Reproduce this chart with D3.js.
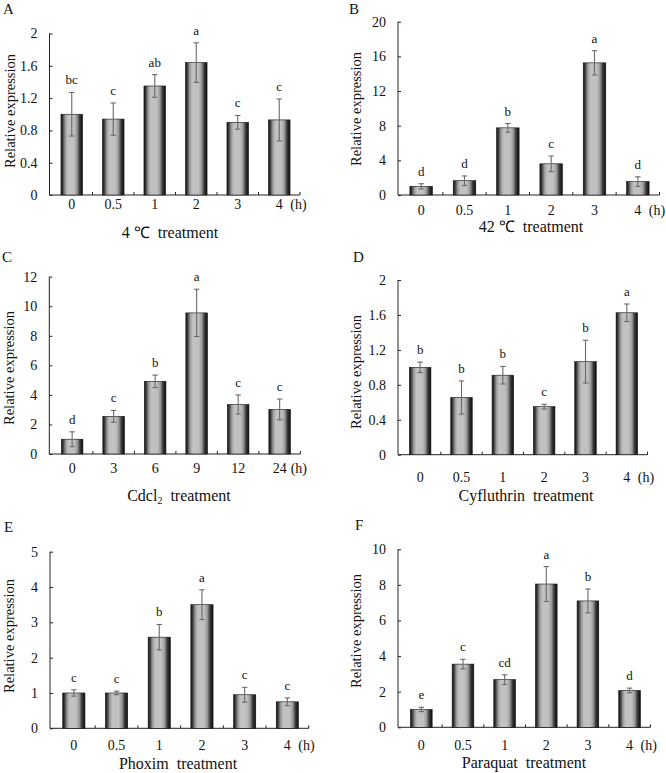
<!DOCTYPE html>
<html>
<head>
<meta charset="utf-8">
<script src="https://cdn.jsdelivr.net/npm/d3@7"></script>
<style>
html,body{margin:0;padding:0;background:#fff;}
svg{display:block;}
text{font-family:"Liberation Serif","Times New Roman",serif;fill:#111;white-space:pre;}
</style>
</head>
<body>
<svg id="chart" width="666" height="773"></svg>
<script>
// ---------------- DATA ----------------
const panelIds = ["A","B","C","D","E","F"];

const catsA = ["0","0.5","1","2","3","4"];
const valsA = [1.00, 0.94, 1.35, 1.64, 0.90, 0.93];
const errA  = [0.27, 0.20, 0.14, 0.245, 0.085, 0.26];
const letA  = ["bc","c","ab","a","c","c"];
const ticksA = [0, 0.4, 0.8, 1.2, 1.6, 2];
const tickLabA = ["0","0.4","0.8","1.2","1.6","2"];

const catsB = ["0","0.5","1","2","3","4"];
const valsB = [1.00, 1.65, 7.75, 3.60, 15.25, 1.55];
const errB  = [0.30, 0.55, 0.50, 0.90, 1.40, 0.55];
const letB  = ["d","d","b","c","a","d"];
const ticksB = [0, 4, 8, 12, 16, 20];
const tickLabB = ["0","4","8","12","16","20"];

const catsC = ["0","3","6","9","12","24"];
const valsC = [1.00, 2.55, 4.92, 9.55, 3.35, 3.02];
const errC  = [0.50, 0.40, 0.42, 1.60, 0.65, 0.70];
const letC  = ["d","c","b","a","c","c"];
const ticksC = [0, 2, 4, 6, 8, 10, 12];
const tickLabC = ["0","2","4","6","8","10","12"];

const catsD = ["0","0.5","1","2","3","4"];
const valsD = [1.00, 0.655, 0.91, 0.55, 1.065, 1.625];
const errD  = [0.06, 0.19, 0.10, 0.027, 0.245, 0.10];
const letD  = ["b","b","b","c","b","a"];
const ticksD = [0, 0.4, 0.8, 1.2, 1.6, 2];
const tickLabD = ["0","0.4","0.8","1.2","1.6","2"];

const catsE = ["0","0.5","1","2","3","4"];
const valsE = [1.00, 1.00, 2.58, 3.50, 0.95, 0.75];
const errE  = [0.09, 0.05, 0.36, 0.42, 0.21, 0.11];
const letE  = ["c","c","b","a","c","c"];
const ticksE = [0, 1, 2, 3, 4, 5];
const tickLabE = ["0","1","2","3","4","5"];

const catsF = ["0","0.5","1","2","3","4"];
const valsF = [1.00, 3.55, 2.68, 8.05, 7.10, 2.07];
const errF  = [0.12, 0.27, 0.27, 0.98, 0.67, 0.13];
const letF  = ["e","c","cd","a","b","d"];
const ticksF = [0, 2, 4, 6, 8, 10];
const tickLabF = ["0","2","4","6","8","10"];

const titles = ["4 \u2103  treatment", "42 \u2103  treatment", "Cdcl|2|  treatment",
                "Cyfluthrin  treatment", "Phoxim  treatment", "Paraquat  treatment"];
const unitLabel = "(h)";
const yTitle = "Relative expression";

// ---------------- LAYOUT ----------------
const layout = [
  {axisX:49.5, bx0:51,    bx1:300,   y0:195,   yTop:33.5,  xlab:14, title:[170,238], id:[3,14],    ylab:[10,111]},
  {axisX:398,  bx0:399.5, bx1:659.5, y0:195,   yTop:21.7,  xlab:20, title:[531,232], id:[349,14],  ylab:[356,109]},
  {axisX:49.3, bx0:51.4,  bx1:300.4, y0:454,   yTop:276.7, xlab:19, title:[179,501], id:[2,262],   ylab:[9,368]},
  {axisX:398,  bx0:399.5, bx1:647.5, y0:454.7, yTop:280,   xlab:27, title:[526,501], id:[353,262], ylab:[356,372]},
  {axisX:50,   bx0:52.5,  bx1:308.7, y0:728.3, yTop:551.7, xlab:22, title:[178,769], id:[4,532],   ylab:[9,636]},
  {axisX:398,  bx0:400.5, bx1:650.4, y0:727.3, yTop:549.3, xlab:23, title:[524,768], id:[355,530], ylab:[356,631]}
];

const panels = [
  {cats:catsA, vals:valsA, err:errA, let:letA, ticks:ticksA, tl:tickLabA},
  {cats:catsB, vals:valsB, err:errB, let:letB, ticks:ticksB, tl:tickLabB},
  {cats:catsC, vals:valsC, err:errC, let:letC, ticks:ticksC, tl:tickLabC},
  {cats:catsD, vals:valsD, err:errD, let:letD, ticks:ticksD, tl:tickLabD},
  {cats:catsE, vals:valsE, err:errE, let:letE, ticks:ticksE, tl:tickLabE},
  {cats:catsF, vals:valsF, err:errF, let:letF, ticks:ticksF, tl:tickLabF}
];

const svg = d3.select("#chart");

// cylinder-like gradient
const defs = svg.append("defs");
const grad = defs.append("linearGradient").attr("id","barGrad")
  .attr("x1","0%").attr("x2","100%").attr("y1","0%").attr("y2","0%");
[["0%","#101010"],["8%","#3a3a3a"],["20%","#9a9a9a"],["32%","#c2c2c2"],
 ["60%","#c0c0c0"],["74%","#9a9a9a"],["86%","#3c3c3c"],["100%","#0c0c0c"]]
  .forEach(([o,c]) => grad.append("stop").attr("offset",o).attr("stop-color",c));

panels.forEach((p, i) => {
  const L = layout[i];
  const g = svg.append("g");
  const ymax = p.ticks[p.ticks.length-1];
  const x = d3.scaleBand().domain(p.cats).range([L.bx0, L.bx1]).paddingInner(0.48).paddingOuter(0.24);
  const y = d3.scaleLinear().domain([0, ymax]).range([L.y0, L.yTop]);

  // y axis (ticks inward)
  const yAxis = d3.axisLeft(y).tickValues(p.ticks).tickSize(-3).tickPadding(12)
    .tickFormat((d,k) => p.tl[k]);
  const ya = g.append("g").attr("transform", `translate(${L.axisX},0)`).call(yAxis);
  ya.select(".domain").attr("d", `M0,${L.y0}V${L.yTop}`).attr("stroke","#222");
  ya.selectAll(".tick line").attr("stroke","#222");
  ya.selectAll(".tick text").attr("font-size",14).attr("font-family","Liberation Serif").attr("fill","#111");

  // x axis line and inward ticks at band boundaries
  const step = x.step();
  g.append("line").attr("x1", L.axisX).attr("x2", L.bx1).attr("y1", L.y0).attr("y2", L.y0)
    .attr("stroke","#222");
  const bounds = d3.range(1, p.cats.length+1).map(k => L.bx0 + k*step);
  g.selectAll(".xt").data(bounds).join("line")
    .attr("x1", d=>d).attr("x2", d=>d).attr("y1", L.y0).attr("y2", L.y0-3).attr("stroke","#222");

  // x tick labels
  g.selectAll(".xl").data(p.cats).join("text")
    .attr("x", d => x(d) + x.bandwidth()/2).attr("y", L.y0 + L.xlab)
    .attr("text-anchor","middle").attr("font-size",14).text(d=>d);
  g.append("text").attr("x", x(p.cats[p.cats.length-1]) + x.bandwidth()/2 + 11)
    .attr("y", L.y0 + L.xlab).attr("font-size",14).text(unitLabel);

  // bars
  const data = p.cats.map((c,k) => ({c, v:p.vals[k], e:p.err[k], l:p.let[k]}));
  g.selectAll(".bar").data(data).join("rect")
    .attr("x", d => x(d.c)).attr("width", x.bandwidth())
    .attr("y", d => y(d.v)).attr("height", d => y(0) - y(d.v))
    .attr("fill","url(#barGrad)").attr("stroke","#111").attr("stroke-width",0.6);

  // error bars
  const cx = d => x(d.c) + x.bandwidth()/2;
  const eg = g.selectAll(".eb").data(data).join("g").attr("stroke","#6a6a6a").attr("stroke-width",1.1);
  eg.append("line").attr("x1",cx).attr("x2",cx).attr("y1",d=>y(d.v+d.e)).attr("y2",d=>y(d.v-d.e));
  eg.append("line").attr("x1",d=>cx(d)-2.7).attr("x2",d=>cx(d)+2.7).attr("y1",d=>y(d.v+d.e)).attr("y2",d=>y(d.v+d.e));
  eg.append("line").attr("x1",d=>cx(d)-2.7).attr("x2",d=>cx(d)+2.7).attr("y1",d=>y(d.v-d.e)).attr("y2",d=>y(d.v-d.e));

  // significance letters
  g.selectAll(".sl").data(data).join("text")
    .attr("x", cx).attr("y", d => y(d.v+d.e) - 8)
    .attr("text-anchor","middle").attr("font-size",13).text(d=>d.l);

  // panel id
  g.append("text").attr("x", L.id[0]).attr("y", L.id[1]).attr("font-size",15).text(panelIds[i]);

  // y title
  g.append("text").attr("transform", `translate(${L.ylab[0]+5},${L.ylab[1]}) rotate(-90)`)
    .attr("text-anchor","middle").attr("font-size",14.5).text(yTitle);

  // x title
  const t = g.append("text").attr("x", L.title[0]).attr("y", L.title[1])
    .attr("text-anchor","middle").attr("font-size",16);
  const parts = titles[i].split("|");
  if (parts.length === 3) {
    t.append("tspan").text(parts[0]);
    t.append("tspan").attr("font-size",10).attr("dy",3).text(parts[1]);
    t.append("tspan").attr("dy",-3).text(parts[2]);
  } else {
    t.text(titles[i]);
  }
});
</script>
</body>
</html>
